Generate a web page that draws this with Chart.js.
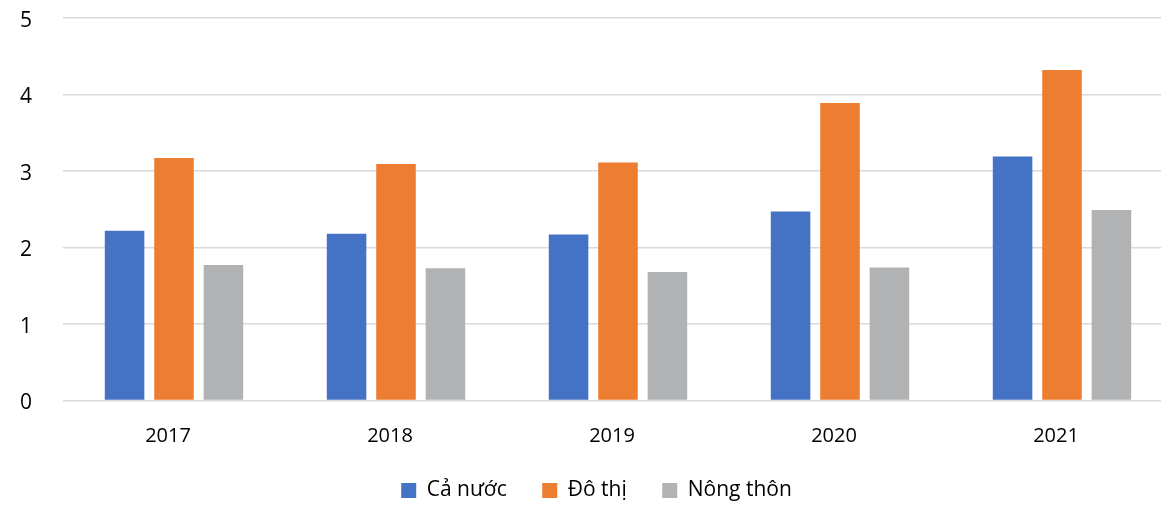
<!DOCTYPE html>
<html>
<head>
<meta charset="utf-8">
<script src="https://cdn.jsdelivr.net/npm/chart.js@4/dist/chart.umd.min.js"></script>
<style>
  html, body { margin: 0; padding: 0; background: #fff; overflow: hidden; }
  #wrap { width: 1161px; height: 506px; overflow: hidden; }
  canvas { display: block; }
</style>
</head>
<body>
<div id="wrap"><canvas id="chart" width="1173" height="506"></canvas></div>
<script>
// Years on the category axis
const years = ['2017', '2018', '2019', '2020', '2021'];

// Series values per year
const caNuoc   = [2.22, 2.18, 2.17, 2.47, 3.19];
const doThi    = [3.17, 3.09, 3.11, 3.89, 4.32];
const nongThon = [1.77, 1.73, 1.68, 1.74, 2.49];

// Series names shown in the legend
const seriesNames = ['Cả nước', 'Đô thị', 'Nông thôn'];

const FONT = "'Open Sans', 'Liberation Sans', sans-serif";

new Chart(document.getElementById('chart'), {
  type: 'bar',
  data: {
    labels: years,
    datasets: [
      { label: seriesNames[0], data: caNuoc,   backgroundColor: '#4472C4' },
      { label: seriesNames[1], data: doThi,    backgroundColor: '#ED7D31' },
      { label: seriesNames[2], data: nongThon, backgroundColor: '#B1B2B4' }
    ]
  },
  options: {
    responsive: false,
    animation: false,
    layout: { padding: { left: 20, right: 0, top: 18, bottom: -5 } },
    datasets: {
      bar: { categoryPercentage: 0.668, barPercentage: 0.8 }
    },
    scales: {
      x: {
        grid: { display: false, drawTicks: false },
        border: { display: false },
        ticks: {
          color: '#000',
          font: { family: FONT, size: 20 },
          padding: 24,
          labelOffset: -6,
          maxRotation: 0
        },
        afterFit: (s) => { s.height = 44; }
      },
      y: {
        min: 0,
        max: 5,
        grid: { color: '#D9D9D9', lineWidth: 1.5, drawTicks: false },
        border: { display: false },
        ticks: {
          stepSize: 1,
          color: '#000',
          font: { family: FONT, size: 21 },
          padding: 0,
          crossAlign: 'far',
          labelOffset: 3
        },
        afterFit: (s) => { s.width = 43; }
      }
    },
    plugins: {
      legend: {
        position: 'bottom',
        labels: {
          color: '#000',
          font: { family: FONT, size: 21 },
          boxWidth: 15,
          boxHeight: 15,
          padding: 35.5
        }
      },
      tooltip: { enabled: false }
    }
  }
});
</script>
</body>
</html>
